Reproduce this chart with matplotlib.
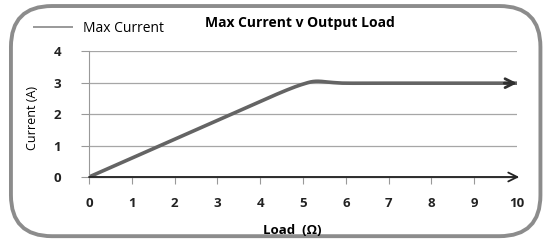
import numpy as np
import matplotlib.pyplot as plt
from matplotlib.patches import FancyBboxPatch

plt.rcParams['font.family'] = ['Open Sans', 'DejaVu Sans']

# Data
load = [0, 1, 2, 3, 4, 4.6, 5, 5.3, 5.7, 6, 7, 8, 9, 10]
current = [0, 0.6, 1.2, 1.8, 2.4, 2.75, 2.95, 3.04, 3.0, 2.98, 2.98, 2.98, 2.98, 2.98]
x_ticks = [0, 1, 2, 3, 4, 5, 6, 7, 8, 9, 10]
y_ticks = [0, 1, 2, 3, 4]


def smooth(xs, ys, n=20):
    # Catmull-Rom curve through the points, like Excel's smoothed line
    xs = np.asarray(xs, float)
    ys = np.asarray(ys, float)
    px = np.concatenate([[xs[0]], xs, [xs[-1]]])
    py = np.concatenate([[ys[0]], ys, [ys[-1]]])
    ox, oy = [], []
    t = np.linspace(0, 1, n, endpoint=False)
    for i in range(1, len(px) - 2):
        for p, out in ((px, ox), (py, oy)):
            p0, p1, p2, p3 = p[i - 1], p[i], p[i + 1], p[i + 2]
            out.extend(0.5 * (2 * p1 + (-p0 + p2) * t
                              + (2 * p0 - 5 * p1 + 4 * p2 - p3) * t ** 2
                              + (-p0 + 3 * p1 - 3 * p2 + p3) * t ** 3))
    ox.append(xs[-1])
    oy.append(ys[-1])
    return np.array(ox), np.array(oy)


fig = plt.figure(figsize=(5.47, 2.41), dpi=100)

# rounded chart border
border = FancyBboxPatch((0.02, 0.02), 0.968, 0.955,
                        boxstyle='round,pad=0,rounding_size=0.075',
                        transform=fig.transFigure, fill=False,
                        edgecolor='#8c8c8c', linewidth=2.8,
                        mutation_aspect=547 / 241)
fig.patches.append(border)

ax = fig.add_axes([0.1627, 0.2656, 0.7825, 0.5225])
sx, sy = smooth(load, current)
ax.plot(sx, sy, color='#646464', linewidth=2.6, solid_capstyle='butt',
        label='Max Current')
ax.annotate('', xy=(load[-1], current[-1]), xytext=(load[-1] - 0.3, current[-1]),
            arrowprops=dict(arrowstyle='->', color='#303030', lw=2,
                            mutation_scale=16, shrinkA=0, shrinkB=0),
            annotation_clip=False)

ax.set_xlim(0, 10)
ax.set_ylim(0, 4)
ax.set_xticks(x_ticks[:-1])
ax.set_xticklabels([])
for x in x_ticks:
    ax.text(x, -0.83, str(x), ha='center', va='center',
            fontsize=9.5, fontweight='bold', color='#222222')
ax.set_yticks(y_ticks)
ax.set_yticklabels([str(v) for v in y_ticks], fontsize=9.5,
                   fontweight='bold', color='#222222')
ax.tick_params(axis='y', length=6, color='#999999', pad=14)
ax.tick_params(axis='x', length=5, color='#999999')
ax.grid(axis='y', color='#a6a6a6', linewidth=0.9)
ax.set_axisbelow(True)
for s in ['top', 'right', 'bottom']:
    ax.spines[s].set_visible(False)
ax.spines['left'].set_color('#999999')

# x axis with open arrow head
ax.annotate('', xy=(10.05, 0), xytext=(0, 0),
            arrowprops=dict(arrowstyle='->', color='#222222', lw=1.3,
                            mutation_scale=16, shrinkA=0, shrinkB=0),
            annotation_clip=False)
ax.plot([0, 10], [0, 0], color='#999999', linewidth=1, clip_on=False)

fig.text(292 / 547, 1 - 231 / 241, 'Load  (\u03a9)', fontsize=9.5,
         fontweight='bold', ha='center', va='center')
fig.text(33 / 547, 1 - 118 / 241, 'Current (A)', fontsize=9, rotation=90,
         ha='center', va='center')

fig.text(205 / 547, 1 - 23 / 241, 'Max Current v Output Load', fontsize=10,
         fontweight='bold', ha='left', va='center')
ax.legend(loc='center left', bbox_to_anchor=(-0.131, 1.183), frameon=False,
          fontsize=10, handlelength=2.9, handletextpad=0.72, borderaxespad=0,
          borderpad=0)
leg = ax.get_legend()
leg.get_lines()[0].set_linewidth(1.2)
leg.get_lines()[0].set_color('#888888')

fig.savefig('out.png', dpi=100)
